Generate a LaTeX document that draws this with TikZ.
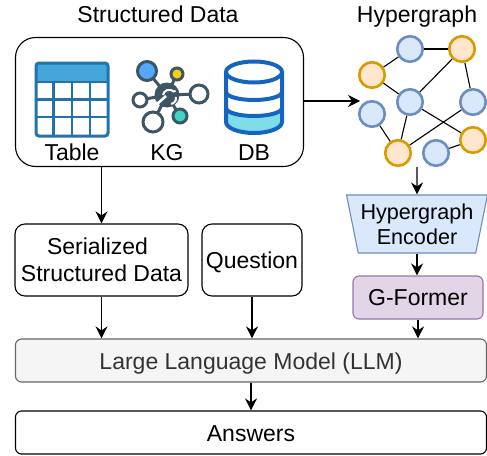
\documentclass[tikz,border=0pt]{standalone}
\usepackage{fontspec}
\setmainfont{Liberation Sans}
\usetikzlibrary{arrows.meta,shapes.geometric}
\definecolor{hgblue}{HTML}{DAE8FC}
\definecolor{hgblueline}{HTML}{6C8EBF}
\definecolor{hgorange}{HTML}{FFE6CC}
\definecolor{hgorangeline}{HTML}{D79B00}
\definecolor{gfmfill}{HTML}{E1D5E7}
\definecolor{gfmline}{HTML}{9673A6}
\definecolor{llmfill}{HTML}{F5F5F5}
\definecolor{llmline}{HTML}{666666}
\definecolor{llmtext}{HTML}{333333}
\definecolor{tablehead}{HTML}{45A6DC}
\definecolor{tableline}{HTML}{2373A9}
\definecolor{kgline}{HTML}{3D5565}
\definecolor{kgblue}{HTML}{55A8F8}
\definecolor{kgyellow}{HTML}{F8CE10}
\definecolor{kgteal}{HTML}{3FD6C0}
\definecolor{dbline}{HTML}{1565C0}
\definecolor{dbfill}{HTML}{7FDCE8}
\tikzset{
  box/.style={draw, rounded corners=6pt, line width=1.1pt, align=center, inner sep=0pt},
  oneline/.style={text height=18pt, text depth=0pt},
  hgnode/.style={draw, circle, inner sep=0pt, line width=2.6pt, minimum width=25.5pt},
  hgb/.style={hgnode, draw=hgblueline, fill=hgblue},
  hgo/.style={hgnode, draw=hgorangeline, fill=hgorange},
  flow/.style={-{Stealth[length=12pt,width=12pt]}, line width=1.1pt},
  kgb/.style={draw=kgline, line width=3pt},
}
\begin{document}
\begin{tikzpicture}[x=1pt,y=-1pt,every node/.append style={font=\fontsize{23}{27.5}\selectfont}]
    \useasboundingbox (0,0) rectangle (487,455);

    \node[anchor=base] (ttl) at (158,23) {Structured Data};
    \node[anchor=base] (hgttl) at (417,23) {Hypergraph};

    \node[box, rounded corners=20pt, minimum width=288pt, minimum height=129pt] (sdata) at (159.5,102) {};

    % table icon
    \fill[tablehead] (36,63) rectangle (108,81);
    \draw[tableline, line width=3pt, rounded corners=3pt] (36,63) rectangle (108,136);
    \draw[tableline, line width=2.2pt] (36,82) -- (108,82) (36,99.5) -- (108,99.5) (36,117) -- (108,117);
    \foreach \xx in {53.5,72,90}
      \draw[tableline, line width=2.2pt] (\xx,82) -- (\xx,136);

    % kg icon
    \foreach \xx/\yy in {147/71, 177/74, 199/94, 140/100, 153/122, 180/116}
      \draw[kgline, line width=3pt] (167,95) -- (\xx,\yy);
    \draw[kgb, fill=white] (199,94) circle (9);
    \draw[kgb, fill=white] (140,100) circle (7);
    \draw[kgb, fill=white] (153,122) circle (10);
    \draw[kgb, fill=kgblue] (147,71) circle (9.5);
    \draw[kgb, fill=kgyellow] (177,74) circle (6);
    \draw[kgb, fill=kgteal] (180,116) circle (7);
    \fill[kgline] (167,95) circle (12.5);
    \draw[white, line width=2.6pt] (156,105) -- (166,96);
    \draw[white, line width=2pt] (163,95) arc (190:290:6.5) (171,90) arc (150:50:3) (176,97) arc (-10:80:6);

    % db icon
    \fill[dbfill] (226,108) arc (180:0:28 and 8) -- (282,122) arc (0:180:28 and 11) -- cycle;
    \draw[dbline, line width=4pt] (254,72) ellipse (28 and 10.5);
    \draw[dbline, line width=4pt] (226,72) -- (226,122) arc (180:0:28 and 11) -- (282,72);
    \foreach \yy in {92,108}
      \draw[dbline, line width=4pt] (226,\yy) arc (180:0:28 and 8);

    \node[anchor=base] (tab) at (72,160) {Table};
    \node[anchor=base] (kg) at (167,160) {KG};
    \node[anchor=base] (db) at (254,160) {DB};

    % hypergraph
    \node[hgb] (v1) at (410,49) {};
    \node[hgo] (v2) at (462,49) {};
    \node[hgo] (v3) at (372,75) {};
    \node[hgb] (v4) at (410,102) {};
    \node[hgb] (v5) at (473,102) {};
    \node[hgb] (v6) at (372,114) {};
    \node[hgo] (v7) at (473,140) {};
    \node[hgo] (v8) at (398,153) {};
    \node[hgb] (v9) at (436,153) {};

    \foreach \from/\to in {v1/v2, v3/v1, v3/v4, v4/v2, v2/v5, v4/v8, v4/v7, v6/v8, v8/v5, v9/v7}
      \draw[line width=1.1pt] (\from) edge (\to);

    \node[box, rounded corners=10pt, minimum width=173pt, minimum height=72pt] (ser) at (101.5,260) {Serialized\kern8pt\\Structured Data};
    \node[box, text height=16pt, text depth=0pt, rounded corners=10pt, minimum width=100pt, minimum height=72pt] (qst) at (252,260) {Question};
    \node[draw=hgblueline, fill=hgblue, line width=1.1pt, align=center, inner sep=0pt,
      font=\fontsize{21.6}{25}\selectfont,
      trapezium, shape border rotate=180, trapezium angle=74.6, trapezium stretches=true,
      minimum width=141pt, minimum height=58pt] (enc) at (417,224) {Hypergraph\\Encoder};
    \node[box, draw=gfmline, fill=gfmfill, text height=15pt, text depth=0pt, minimum width=130pt, minimum height=43pt] (gfm) at (418,297.5) {G-Former};
    \node[box, oneline, draw=llmline, fill=llmfill, text=llmtext, minimum width=471pt, minimum height=43pt] (llm) at (251,360.5) {Large Language Model (LLM)};
    \node[box, oneline, minimum width=471pt, minimum height=43pt] (ans) at (251,432.5) {Answers};

    \coordinate (hgin) at (360,101);
    \coordinate (hgout) at (417,167);
    \draw[flow] (sdata.east |- hgin) -- (hgin);
    \draw[flow] (ser.north |- sdata.south) -- (ser.north);
    \draw[flow] (hgout) -- (enc.north);
    \draw[flow] (enc.south) -- (enc.south |- gfm.north);
    \draw[flow] (gfm.south) -- (gfm.south |- llm.north);
    \draw[flow] (ser.south) -- (ser.south |- llm.north);
    \draw[flow] (qst.south) -- (qst.south |- llm.north);
    \draw[flow] (llm.south) -- (ans.north);
  \end{tikzpicture}
\end{document}
